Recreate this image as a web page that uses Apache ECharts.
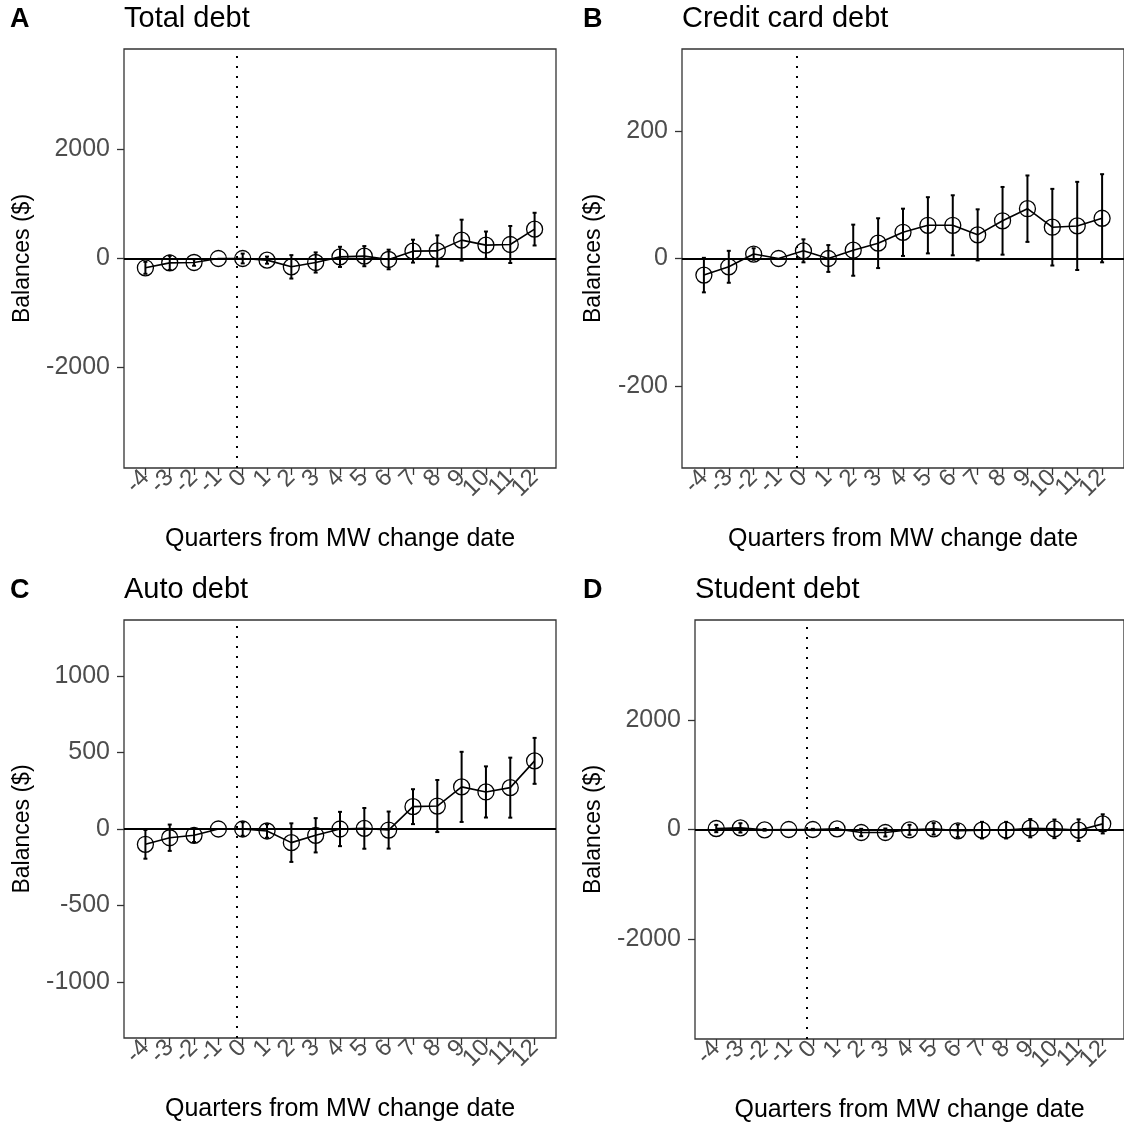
<!DOCTYPE html>
<html>
<head>
<meta charset="utf-8">
<script src="https://cdn.jsdelivr.net/npm/echarts@6/dist/echarts.min.js"></script>
<style>
  html, body { margin: 0; padding: 0; background: #fff; }
  #chart { width: 1124px; height: 1126px; }
</style>
</head>
<body>
<div id="chart"></div>
<script>
const quarters = [-4, -3, -2, -1, 0, 1, 2, 3, 4, 5, 6, 7, 8, 9, 10, 11, 12];

// point estimates and half-width of the error bars
const totalEst = [-171, -80, -73, 0, 0, -30, -153, -73, 30, 43, -18, 135, 140, 337, 245, 257, 539];
const totalCi = [110, 130, 60, 0, 90, 65, 215, 185, 185, 185, 180, 210, 285, 375, 250, 340, 300];

const creditEst = [-26, -13, 7, 0, 12, 0, 13, 24, 41, 52, 52, 37, 59, 78, 49, 51, 63];
const creditCi = [27, 25, 9, 0, 18, 21, 40, 39, 37, 44, 47, 40, 53, 52, 60, 69, 69];

const autoEst = [-100, -57, -41, 0, 0, -13, -89, -41, 0, 4, -7, 146, 150, 275, 242, 270, 445];
const autoCi = [94, 86, 44, 0, 44, 44, 126, 112, 112, 133, 121, 114, 170, 229, 167, 196, 150];

const studentEst = [18, 30, -6, 0, 0, 12, -55, -55, -6, 12, -24, -12, -12, 24, 12, -12, 103];
const studentCi = [67, 85, 15, 0, 12, 15, 67, 73, 91, 105, 115, 152, 152, 167, 170, 198, 175];

const panelTitles = ['Total debt', 'Credit card debt', 'Auto debt', 'Student debt'];
const panelTags = ['A', 'B', 'C', 'D'];
const yTicks = [[-2000, 0, 2000], [-200, 0, 200], [-1000, -500, 0, 500, 1000], [-2000, 0, 2000]];
const yLimits = [3845, 328, 1365, 3830];
const eventLine = -0.25;

const FONT = '"Liberation Sans", Arial, Helvetica, sans-serif';
const ests = [totalEst, creditEst, autoEst, studentEst];
const cis = [totalCi, creditCi, autoCi, studentCi];

// grid boxes (px)
const boxes = [
  { left: 124, top: 49, width: 432, height: 419 },
  { left: 682, top: 49, width: 444, height: 419 },
  { left: 124, top: 620, width: 432, height: 418 },
  { left: 695, top: 620, width: 432, height: 419 },
];
const yNameGap = [90, 77, 90, 90];

const chart = echarts.init(document.getElementById('chart'));

function errorBar(params, api) {
  const x = api.value(0);
  const lo = api.coord([x, api.value(1)]);
  const hi = api.coord([x, api.value(2)]);
  const cap = 2;
  const style = { stroke: '#000', lineWidth: 2 };
  return {
    type: 'group',
    children: [
      { type: 'line', shape: { x1: lo[0], y1: lo[1], x2: hi[0], y2: hi[1] }, style },
      { type: 'line', shape: { x1: lo[0] - cap, y1: lo[1], x2: lo[0] + cap, y2: lo[1] }, style },
      { type: 'line', shape: { x1: hi[0] - cap, y1: hi[1], x2: hi[0] + cap, y2: hi[1] }, style },
    ],
  };
}

const grid = [], xAxis = [], yAxis = [], series = [], title = [];

const xLabelStyle = {
  rotate: 45,
  margin: 6,
  fontFamily: FONT,
  fontSize: 24,
  color: '#4d4d4d',
  showMinLabel: true,
  showMaxLabel: true,
  hideOverlap: false,
  formatter: (v) => String(v),
};

boxes.forEach((b, i) => {
  grid.push({ ...b, show: true, borderColor: '#333', borderWidth: 1.3, backgroundColor: 'transparent' });

  // main x axis: ticks at every quarter, labels at even quarters
  xAxis.push({
    type: 'value',
    gridIndex: i,
    min: -4.88,
    max: 12.88,
    name: 'Quarters from MW change date',
    nameLocation: 'middle',
    nameGap: 59,
    nameTextStyle: { fontFamily: FONT, fontSize: 25, color: '#000' },
    axisLine: { show: false, onZero: false },
    splitLine: { show: false },
    axisTick: { show: true, length: 7, lineStyle: { color: '#333', width: 1.3 }, customValues: quarters },
    axisLabel: { ...xLabelStyle, customValues: quarters.filter((q) => q % 2 === 0) },
  });

  yAxis.push({
    type: 'value',
    gridIndex: i,
    min: -yLimits[i],
    max: yLimits[i],
    name: 'Balances ($)',
    nameLocation: 'middle',
    nameRotate: 90,
    nameGap: yNameGap[i],
    nameTextStyle: { fontFamily: FONT, fontSize: 23, color: '#000' },
    axisLine: { show: false, onZero: false },
    splitLine: { show: false },
    axisTick: { show: true, length: 7, lineStyle: { color: '#333', width: 1.3 }, customValues: yTicks[i] },
    axisLabel: {
      margin: 14,
      fontFamily: FONT,
      fontSize: 25,
      color: '#4d4d4d',
      customValues: yTicks[i],
      formatter: (v) => String(v),
    },
  });

  const est = ests[i], ci = cis[i];

  series.push({
    type: 'line',
    xAxisIndex: i,
    yAxisIndex: i,
    data: quarters.map((q, k) => [q, est[k]]),
    symbol: 'circle',
    symbolSize: 16,
    showSymbol: true,
    itemStyle: { color: 'rgba(0,0,0,0)', borderColor: '#000', borderWidth: 1.3 },
    lineStyle: { color: '#000', width: 1.6 },
    silent: true,
    z: 3,
    markLine: {
      silent: true,
      symbol: 'none',
      label: { show: false },
      data: [
        { yAxis: 0, lineStyle: { color: '#000', width: 2, type: 'solid' } },
        { xAxis: eventLine, lineStyle: { color: '#000', width: 2, type: [2, 8] } },
      ],
    },
  });

  series.push({
    type: 'custom',
    xAxisIndex: i,
    yAxisIndex: i,
    renderItem: errorBar,
    encode: { x: 0, y: [1, 2] },
    data: quarters
      .map((q, k) => [q, est[k] - ci[k], est[k] + ci[k]])
      .filter((d, k) => ci[k] > 0),
    silent: true,
    z: 4,
  });

  const tagLeft = i % 2 === 0 ? 10 : 583;
  const tagTop = i < 2 ? 6 : 577;
  title.push({
    text: panelTags[i],
    left: tagLeft,
    top: tagTop,
    textStyle: { fontFamily: FONT, fontSize: 27, fontWeight: 'bold', color: '#000' },
    padding: 0,
  });
  title.push({
    text: panelTitles[i],
    left: b.left,
    top: tagTop - 2,
    textStyle: { fontFamily: FONT, fontSize: 29, fontWeight: 'normal', color: '#000' },
    padding: 0,
  });
});

// second x axis per panel carrying the odd-quarter labels, so ECharts
// does not drop neighbouring rotated labels
boxes.forEach((b, i) => {
  xAxis.push({
    type: 'value',
    gridIndex: i,
    min: -4.88,
    max: 12.88,
    position: 'bottom',
    axisLine: { show: false, onZero: false },
    splitLine: { show: false },
    axisTick: { show: false },
    axisLabel: { ...xLabelStyle, customValues: quarters.filter((q) => q % 2 !== 0) },
  });
});

chart.setOption({
  animation: false,
  backgroundColor: '#fff',
  title,
  grid,
  xAxis,
  yAxis,
  series,
});
</script>
</body>
</html>
